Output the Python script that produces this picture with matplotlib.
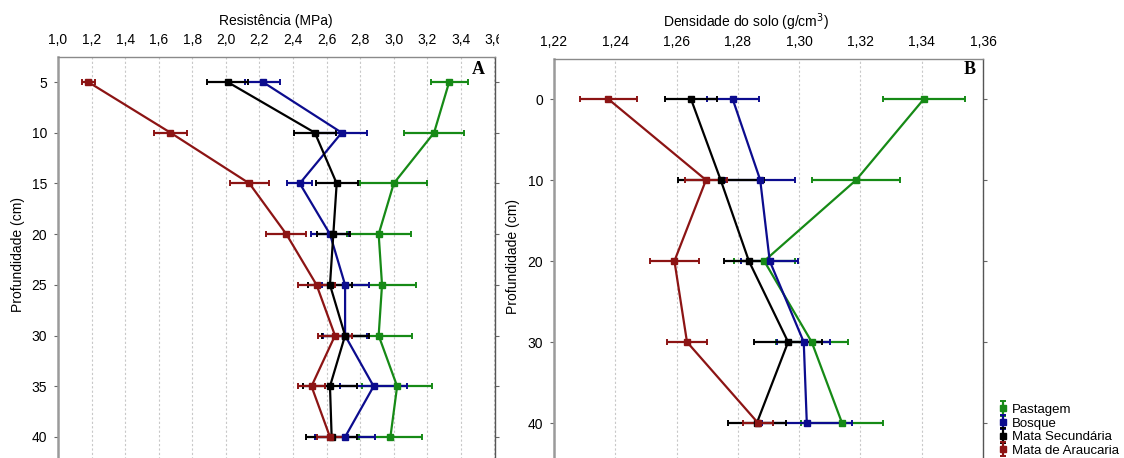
import numpy as np
import matplotlib
matplotlib.use('Agg')
import matplotlib.pyplot as plt
from matplotlib.ticker import FuncFormatter
from matplotlib.patches import Rectangle
from matplotlib.legend_handler import HandlerErrorbar
from matplotlib.container import ErrorbarContainer

plt.rcParams['font.family'] = ['Liberation Sans', 'DejaVu Sans']

# dados - painel A (resistencia a penetracao)
prof_a = [5, 10, 15, 20, 25, 30, 35, 40]
pastagem_a = [3.33, 3.24, 3.00, 2.91, 2.93, 2.91, 3.02, 2.98]
pastagem_a_err = [0.11, 0.18, 0.20, 0.19, 0.20, 0.20, 0.21, 0.19]
bosque_a = [2.22, 2.69, 2.44, 2.62, 2.71, 2.71, 2.88, 2.71]
bosque_a_err = [0.105, 0.15, 0.075, 0.115, 0.14, 0.13, 0.20, 0.18]
secund_a = [2.01, 2.53, 2.66, 2.64, 2.62, 2.71, 2.62, 2.63]
secund_a_err = [0.12, 0.125, 0.125, 0.10, 0.13, 0.14, 0.16, 0.15]
arauc_a = [1.18, 1.67, 2.14, 2.36, 2.54, 2.65, 2.51, 2.62]
arauc_a_err = [0.04, 0.10, 0.115, 0.12, 0.11, 0.10, 0.08, 0.08]

# dados - painel B (densidade do solo)
prof_b = [0, 10, 20, 30, 40]
pastagem_b = [1.3407, 1.3186, 1.2886, 1.3041, 1.3140]
pastagem_b_err = [0.0134, 0.0143, 0.0100, 0.0117, 0.0135]
bosque_b = [1.2783, 1.2873, 1.2904, 1.3015, 1.3025]
bosque_b_err = [0.0085, 0.0115, 0.0093, 0.0087, 0.0147]
secund_b = [1.2647, 1.2744, 1.2836, 1.2964, 1.2862]
secund_b_err = [0.0085, 0.0140, 0.0080, 0.0110, 0.0095]
arauc_b = [1.2377, 1.2696, 1.2593, 1.2634, 1.2866]
arauc_b_err = [0.0093, 0.0070, 0.0080, 0.0065, 0.0050]

nomes = ['Pastagem', 'Bosque', 'Mata Secundária', 'Mata de Araucaria']
cores = ['#168a16', '#0c0c8e', '#000000', '#8c1414']

W, H = 1124, 458
fig = plt.figure(figsize=(W / 100, H / 100), dpi=100)

ax1 = fig.add_axes([58 / W, 1 - 487.7 / H, (494.5 - 58) / W, (487.7 - 57) / H])
ax2 = fig.add_axes([554 / W, 1 - 487.8 / H, (983 - 554) / W, (487.8 - 59) / H])


def desenha(ax, prof, series):
    for (x, xe), cor in zip(series, cores):
        ax.errorbar(x, prof, xerr=xe, color=cor, marker='s', markersize=5,
                    lw=1.6, elinewidth=1.6, capsize=2.5, capthick=1.4)


desenha(ax1, prof_a, [(pastagem_a, pastagem_a_err), (bosque_a, bosque_a_err),
                      (secund_a, secund_a_err), (arauc_a, arauc_a_err)])
desenha(ax2, prof_b, [(pastagem_b, pastagem_b_err), (bosque_b, bosque_b_err),
                      (secund_b, secund_b_err), (arauc_b, arauc_b_err)])

ax1.set_xlim(1.0, 3.6)
ax1.set_ylim(45, 2.535)
ax1.set_xticks(np.arange(1.0, 3.61, 0.2))
ax1.set_yticks(prof_a)
ax1.xaxis.set_major_formatter(FuncFormatter(lambda v, p: ('%.1f' % v).replace('.', ',')))

ax2.set_xlim(1.22, 1.36)
ax2.set_ylim(48, -4.94)
ax2.set_xticks(np.arange(1.22, 1.3601, 0.02))
ax2.set_yticks(prof_b)
ax2.xaxis.set_major_formatter(FuncFormatter(lambda v, p: ('%.2f' % v).replace('.', ',')))

for ax in (ax1, ax2):
    ax.xaxis.tick_top()
    ax.tick_params(axis='x', top=True, bottom=False, length=0, pad=7, labelsize=10)
    ax.tick_params(axis='y', left=True, right=True, direction='out', length=3,
                   pad=5, labelsize=10, color='#666666')
    ax.grid(axis='x', ls=(0, (2, 2)), color='#c8c8c8', lw=0.8)
    ax.set_axisbelow(True)
    ax.spines['left'].set_color('#9a9a9a')
    ax.spines['left'].set_linewidth(1.8)
    ax.spines['top'].set_color('#8a8a8a')
    ax.spines['top'].set_linewidth(1.0)
    ax.spines['right'].set_color('#555555')
    ax.spines['right'].set_linewidth(1.0)
    ax.spines['bottom'].set_visible(False)

# rotulo 3,6 cortado como no original
ultimo = ax1.xaxis.get_major_ticks()[-1].label2
ultimo.set_clip_path(Rectangle((0, 0), 499 / W, 1, transform=fig.transFigure))
ultimo.set_clip_on(True)

fig.text(276 / W, 1 - 21 / H, 'Resistência (MPa)', ha='center', va='center', fontsize=10)
fig.text(746 / W, 1 - 22 / H, 'Densidade do solo (g/cm$^3$)', ha='center', va='center', fontsize=10)
fig.text(18 / W, 1 - 255 / H, 'Profundidade (cm)', rotation=90, ha='center', va='center', fontsize=10)
fig.text(513 / W, 1 - 257 / H, 'Profundidade (cm)', rotation=90, ha='center', va='center', fontsize=10)

fig.text(478 / W, 1 - 69 / H, 'A', ha='center', va='center', fontsize=13,
         fontweight='bold', family='Liberation Serif')
fig.text(970 / W, 1 - 70 / H, 'B', ha='center', va='center', fontsize=13,
         fontweight='bold', family='Liberation Serif')

# icones da legenda: barra de erro vertical (fora da area visivel)
handles = []
for cor in cores:
    h = ax2.errorbar([-100], [-100], yerr=[1], color=cor, marker='s', markersize=5,
                     ls='none', elinewidth=1.6, capsize=2.5, capthick=1.4)
    handles.append(h)
fig.legend(handles, nomes, loc='lower left', bbox_to_anchor=(996 / W, 0.0),
           frameon=False, handlelength=0.8, handletextpad=0.3, labelspacing=0.1,
           fontsize=9.5, borderaxespad=0, borderpad=0.1,
           handler_map={ErrorbarContainer: HandlerErrorbar(yerr_size=0.55)})

fig.savefig('out.png', dpi=100)
